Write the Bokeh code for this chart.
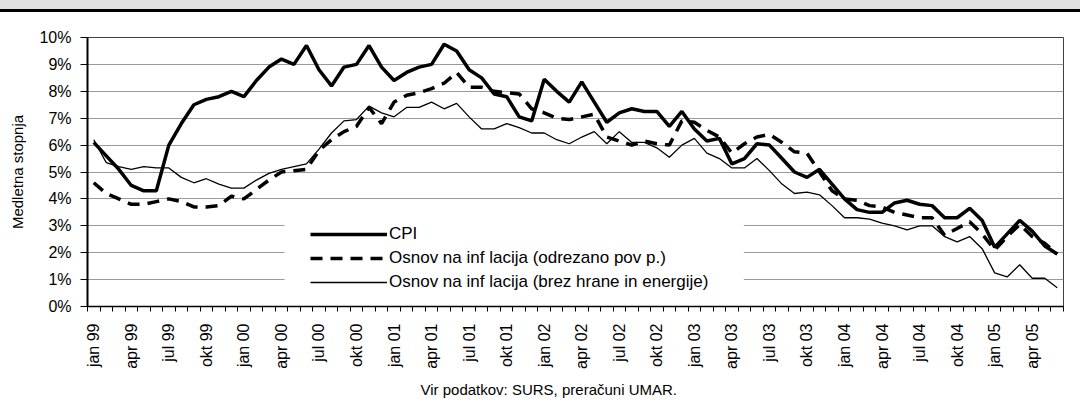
import math
from bokeh.plotting import figure
from bokeh.models import Range1d, FixedTicker, Legend, LegendItem, Title, Div
from bokeh.layouts import column
from bokeh.embed import file_html
from bokeh.resources import INLINE

# ---------------- data ----------------
month_names = ["jan", "feb", "mar", "apr", "maj", "jun", "jul", "avg", "sep", "okt", "nov", "dec"]
years = ["99", "00", "01", "02", "03", "04", "05"]
months = [f"{m} {y}" for y in years for m in month_names][:78]   # jan 99 .. jun 05

cpi = [6.1, 5.6, 5.1, 4.5, 4.3, 4.3, 6.0, 6.8, 7.5, 7.7, 7.8, 8.0, 7.8,
       8.4, 8.9, 9.2, 9.0, 9.7, 8.8, 8.2, 8.9, 9.0, 9.7, 8.9, 8.4, 8.7, 8.9,
       9.0, 9.75, 9.5, 8.8, 8.5, 7.9, 7.8, 7.05, 6.9, 8.45, 8.0, 7.6, 8.35,
       7.6, 6.85, 7.2, 7.35, 7.25, 7.25, 6.7, 7.25, 6.6, 6.15, 6.25, 5.3, 5.5,
       6.05, 6.0, 5.5, 5.0, 4.8, 5.1, 4.55, 4.0, 3.6, 3.5, 3.5, 3.85, 3.95,
       3.8, 3.75, 3.3, 3.3, 3.65, 3.2, 2.2, 2.7, 3.2, 2.8, 2.25, 1.95]

core_trimmed = [4.6, 4.2, 4.0, 3.8, 3.8, 3.9, 4.0, 3.9, 3.7, 3.7, 3.75, 4.1, 4.0,
                4.35, 4.7, 5.0, 5.05, 5.1, 5.8, 6.2, 6.5, 6.7, 7.4, 6.8, 7.6, 7.85, 7.95,
                8.1, 8.3, 8.7, 8.15, 8.15, 8.0, 7.95, 7.9, 7.35, 7.2, 7.0, 6.95, 7.05,
                7.15, 6.3, 6.15, 6.0, 6.15, 6.05, 6.0, 6.9, 6.85, 6.55, 6.3, 5.7, 6.05,
                6.3, 6.4, 6.1, 5.75, 5.7, 5.0, 4.3, 4.0, 3.95, 3.75, 3.7, 3.5, 3.4,
                3.3, 3.3, 2.65, 2.9, 3.15, 2.7, 2.1, 2.6, 3.05, 2.6, 2.35, 1.95]

core_excl = [6.2, 5.35, 5.2, 5.1, 5.2, 5.15, 5.15, 4.8, 4.6, 4.75, 4.55, 4.4, 4.4,
             4.7, 4.95, 5.1, 5.2, 5.3, 5.85, 6.45, 6.9, 6.95, 7.45, 7.2, 7.05, 7.4, 7.4,
             7.6, 7.35, 7.55, 7.05, 6.6, 6.6, 6.8, 6.65, 6.45, 6.45, 6.2, 6.05, 6.3,
             6.5, 6.05, 6.5, 6.1, 6.1, 5.9, 5.55, 6.0, 6.25, 5.7, 5.5, 5.15, 5.15,
             5.5, 5.05, 4.55, 4.2, 4.25, 4.15, 3.75, 3.3, 3.3, 3.25, 3.1, 3.0, 2.85,
             3.0, 3.0, 2.6, 2.4, 2.6, 2.15, 1.25, 1.1, 1.55, 1.05, 1.05, 0.7]

series_labels = ["CPI",
                 "Osnov na inf lacija (odrezano pov p.)",
                 "Osnov na inf lacija (brez hrane in energije)"]
y_ticks = list(range(0, 11))
y_tick_labels = [f"{t}%" for t in y_ticks]
y_title = "Medletna stopnja"
source_text = "Vir podatkov: SURS, preračuni UMAR."

FONT = "Liberation Sans"

# ---------------- figure ----------------
n = len(months)
x = [i + 0.5 for i in range(n)]

p = figure(width=1080, height=400, x_range=Range1d(0, n), y_range=Range1d(0, 10),
           output_backend="svg", toolbar_location=None,
           min_border_left=87, min_border_right=17, min_border_top=25, min_border_bottom=106)
p.background_fill_color = "white"
p.border_fill_color = "white"
p.outline_line_color = "#404040"
p.outline_line_width = 1

p.xgrid.visible = False
p.ygrid.ticker = FixedTicker(ticks=y_ticks)
p.ygrid.grid_line_color = "#9a9a9a"
p.ygrid.grid_line_width = 1

# y axis
ya = p.yaxis[0]
ya.ticker = FixedTicker(ticks=y_ticks)
ya.major_label_overrides = {t: l for t, l in zip(y_ticks, y_tick_labels)}
ya.axis_line_color = "black"
ya.axis_line_width = 2
ya.major_tick_out = 7
ya.major_tick_in = 0
ya.major_tick_line_color = "black"
ya.minor_tick_line_color = None
ya.major_label_text_font = FONT
ya.major_label_text_font_size = "16px"
ya.major_label_text_color = "black"
ya.major_label_standoff = 9
ya.axis_label = y_title
ya.axis_label_text_font = FONT
ya.axis_label_text_font_size = "15px"
ya.axis_label_text_font_style = "normal"
ya.axis_label_text_color = "black"
ya.axis_label_standoff = 10

# x axis
xa = p.xaxis[0]
label_idx = list(range(0, n, 3))
xa.ticker = FixedTicker(ticks=[x[i] for i in label_idx], minor_ticks=list(range(0, n + 1)))
xa.major_label_overrides = {x[i]: months[i] for i in label_idx}
xa.axis_line_color = "black"
xa.axis_line_width = 1.5
xa.major_tick_out = 0
xa.major_tick_in = 0
xa.minor_tick_out = 5
xa.minor_tick_in = 0
xa.minor_tick_line_color = "black"
xa.major_label_orientation = math.pi / 2
xa.major_label_text_font = FONT
xa.major_label_text_font_size = "16px"
xa.major_label_text_color = "black"
xa.major_label_standoff = 12

# white legend box covering the grid
p.quad(left=15.75, right=52.45, bottom=0.05, top=3.65, fill_color="white", line_color=None)

r_cpi = p.line(x, cpi, line_color="black", line_width=3.5)
r_trim = p.line(x, core_trimmed, line_color="black", line_width=3.5, line_dash="12 8")
r_excl = p.line(x, core_excl, line_color="black", line_width=1.3)

legend = Legend(items=[LegendItem(label=series_labels[0], renderers=[r_cpi]),
                       LegendItem(label=series_labels[1], renderers=[r_trim]),
                       LegendItem(label=series_labels[2], renderers=[r_excl])],
                location=(223, 14), orientation="vertical",
                glyph_width=77, glyph_height=20, label_height=20, spacing=4,
                padding=0, margin=0, label_standoff=2,
                background_fill_alpha=0, border_line_alpha=0,
                label_text_font=FONT, label_text_font_size="17px", label_text_color="black")
p.add_layout(legend)

src = Title(text=source_text, align="left", offset=333, standoff=15,
            text_font=FONT, text_font_size="15px", text_font_style="normal", text_color="black")
p.add_layout(src, "below")

band = Div(text="", width=1080, height=12, margin=0,
           styles={"background": "linear-gradient(#e0e0e0 0 9px, #000000 9px 12px)"})

layout = column(band, p, spacing=0)

open("out.html", "w").write(file_html(layout, INLINE))
